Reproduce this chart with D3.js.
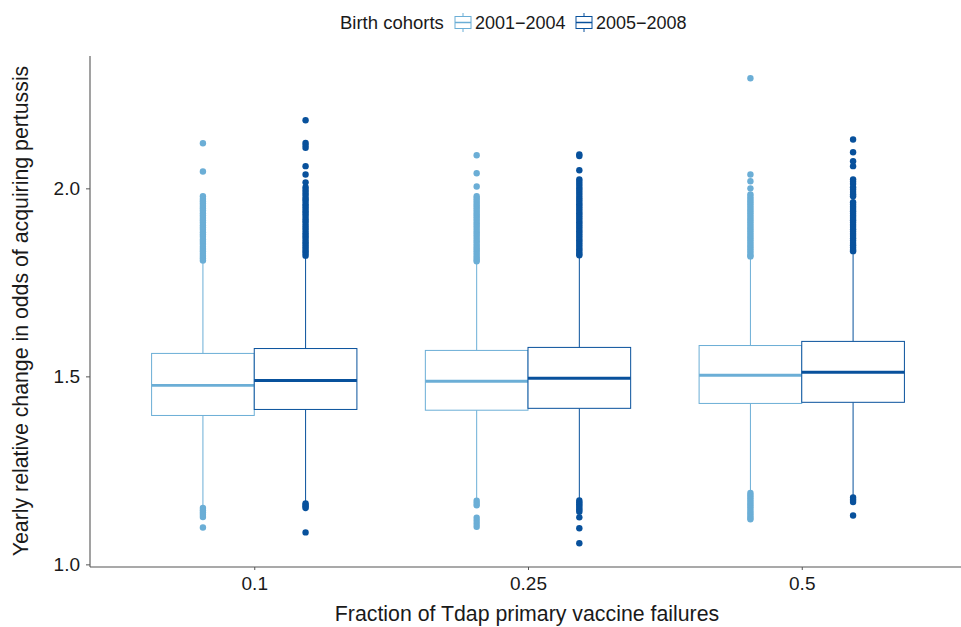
<!DOCTYPE html>
<html>
<head>
<meta charset="utf-8">
<script src="https://cdn.jsdelivr.net/npm/d3@7"></script>
<style>
  html, body { margin: 0; padding: 0; background: #fff; }
  svg { display: block; font-family: "Liberation Sans", Arial, Helvetica, sans-serif; }
</style>
</head>
<body>
<svg id="chart" width="961" height="627"></svg>
<script>
// ---------- data ----------
const groups = ["0.1", "0.25", "0.5"];
const cohorts = ["2001\u22122004", "2005\u22122008"];
const yTicks = [1.0, 1.5, 2.0];

// cohort 2001−2004 box statistics per group
const lowA = [1.154, 1.173, 1.194];
const q1A = [1.396, 1.410, 1.428];
const medA = [1.476, 1.487, 1.503];
const q3A = [1.561, 1.569, 1.582];
const highA = [1.801, 1.803, 1.816];

// cohort 2005−2008 box statistics per group
const lowB = [1.165, 1.173, 1.181];
const q1B = [1.412, 1.415, 1.431];
const medB = [1.489, 1.495, 1.511];
const q3B = [1.574, 1.577, 1.593];
const highB = [1.816, 1.819, 1.830];

// outliers, cohort 2001−2004
const outA_01 = [2.120, 2.045, 1.979, 1.972, 1.966, 1.960, 1.953, 1.947, 1.941, 1.934, 1.928, 1.921, 1.915, 1.909, 1.902, 1.896, 1.890, 1.883, 1.877, 1.871, 1.864, 1.858, 1.852, 1.845, 1.839, 1.833, 1.826, 1.820, 1.814, 1.808,
                 1.150, 1.144, 1.138, 1.132, 1.126, 1.098];
const outA_025 = [2.088, 2.040, 2.005, 1.979, 1.973, 1.967, 1.961, 1.955, 1.949, 1.943, 1.937, 1.931, 1.925, 1.919, 1.913, 1.907, 1.901, 1.895, 1.889, 1.883, 1.877, 1.871, 1.865, 1.859, 1.853, 1.847, 1.841, 1.835, 1.829, 1.823, 1.817, 1.811, 1.806,
                  1.169, 1.163, 1.157, 1.124, 1.116, 1.108, 1.100];
const outA_05 = [2.293, 2.037, 2.019, 2.000, 1.984, 1.978, 1.972, 1.966, 1.960, 1.954, 1.948, 1.942, 1.936, 1.930, 1.924, 1.918, 1.912, 1.906, 1.900, 1.894, 1.888, 1.882, 1.876, 1.870, 1.864, 1.858, 1.852, 1.846, 1.840, 1.834, 1.828, 1.822, 1.819,
                 1.190, 1.184, 1.178, 1.172, 1.166, 1.160, 1.154, 1.148, 1.142, 1.136, 1.130, 1.124, 1.120];

// outliers, cohort 2005−2008
const outB_01 = [2.181, 2.121, 2.115, 2.108, 2.059, 2.037, 2.016, 2.003, 1.996, 1.990, 1.984, 1.977, 1.971, 1.965, 1.958, 1.952, 1.946, 1.939, 1.933, 1.927, 1.920, 1.914, 1.908, 1.901, 1.895, 1.889, 1.882, 1.876, 1.870, 1.863, 1.857, 1.851, 1.845, 1.839, 1.833, 1.827, 1.821,
                 1.162, 1.158, 1.154, 1.150, 1.085];
const outB_025 = [2.090, 2.086, 2.048, 2.024, 2.018, 2.012, 2.006, 2.000, 1.994, 1.988, 1.982, 1.976, 1.970, 1.964, 1.958, 1.952, 1.946, 1.940, 1.934, 1.928, 1.922, 1.916, 1.910, 1.904, 1.898, 1.892, 1.886, 1.880, 1.874, 1.868, 1.862, 1.856, 1.850, 1.844, 1.838, 1.832, 1.826, 1.822,
                  1.170, 1.165, 1.160, 1.155, 1.150, 1.145, 1.140, 1.125, 1.096, 1.056];
const outB_05 = [2.130, 2.096, 2.072, 2.059, 2.024, 2.018, 2.012, 2.003, 1.997, 1.990, 1.984, 1.979, 1.963, 1.957, 1.951, 1.945, 1.939, 1.933, 1.927, 1.921, 1.915, 1.909, 1.903, 1.897, 1.891, 1.885, 1.879, 1.873, 1.867, 1.861, 1.855, 1.849, 1.843, 1.837, 1.833,
                 1.178, 1.172, 1.166, 1.130];

const colors = ["#6baed6", "#08519c"];

// ---------- build records ----------
const stats = [
  { low: lowA, q1: q1A, med: medA, q3: q3A, high: highA, out: [outA_01, outA_025, outA_05] },
  { low: lowB, q1: q1B, med: medB, q3: q3B, high: highB, out: [outB_01, outB_025, outB_05] }
];
const boxes = [];
groups.forEach((g, gi) => {
  cohorts.forEach((c, ci) => {
    const s = stats[ci];
    boxes.push({ group: g, cohort: c, ci,
      low: s.low[gi], q1: s.q1[gi], med: s.med[gi], q3: s.q3[gi], high: s.high[gi], out: s.out[gi] });
  });
});

// ---------- layout ----------
const svg = d3.select("#chart");
const pL = 90, pR = 966, pT = 56, pB = 567;

const x = d3.scalePoint().domain(groups).range([pL, pR]).padding(0.6);
const step = x.step();
const xc = d3.scaleBand().domain(cohorts).range([-0.375 * step, 0.375 * step]);
const y = d3.scaleLinear().domain([0.993, 2.352]).range([pB, pT]);

const axisColor = "#555";
const textColor = "#1a1a1a";

// boxes
const gBox = svg.append("g");
boxes.forEach(b => {
  const col = colors[b.ci];
  const x0 = x(b.group) + xc(b.cohort);
  const w = xc.bandwidth();
  const cx = x0 + w / 2;
  const bg = gBox.append("g");
  bg.append("line").attr("x1", cx).attr("x2", cx).attr("y1", y(b.q3)).attr("y2", y(b.high))
    .attr("stroke", col).attr("stroke-width", 1);
  bg.append("line").attr("x1", cx).attr("x2", cx).attr("y1", y(b.q1)).attr("y2", y(b.low))
    .attr("stroke", col).attr("stroke-width", 1);
  bg.append("rect").attr("x", x0).attr("y", y(b.q3)).attr("width", w).attr("height", y(b.q1) - y(b.q3))
    .attr("fill", "#fff").attr("stroke", col).attr("stroke-width", 1);
  bg.append("line").attr("x1", x0).attr("x2", x0 + w).attr("y1", y(b.med)).attr("y2", y(b.med))
    .attr("stroke", col).attr("stroke-width", 2.8);
  bg.selectAll("circle").data(b.out).join("circle")
    .attr("cx", cx).attr("cy", d => y(d)).attr("r", 3.2).attr("fill", col);
});

// y axis
const yAxis = svg.append("g").attr("transform", `translate(${pL},0)`)
  .call(d3.axisLeft(y).tickValues(yTicks).tickFormat(d3.format(".1f")).tickSize(4).tickPadding(6));
yAxis.select(".domain").attr("stroke", axisColor).attr("stroke-width", 1.1).attr("d", `M0,${pT}V${pB}`);
yAxis.selectAll(".tick line").attr("stroke", axisColor);
yAxis.selectAll("text").attr("fill", textColor).attr("font-size", 19).attr("font-family", "Liberation Sans, Arial, sans-serif");

// x axis
const xAxis = svg.append("g").attr("transform", `translate(0,${pB})`)
  .call(d3.axisBottom(x).tickSize(3).tickPadding(7));
xAxis.select(".domain").attr("stroke", axisColor).attr("stroke-width", 1.1).attr("d", `M${pL},0H${pR}`);
xAxis.selectAll(".tick line").attr("stroke", axisColor);
xAxis.selectAll("text").attr("fill", textColor).attr("font-size", 19).attr("font-family", "Liberation Sans, Arial, sans-serif");

// axis titles
svg.append("text").attr("x", 527).attr("y", 621).attr("text-anchor", "middle")
  .attr("font-size", 21.3).attr("fill", textColor).text("Fraction of Tdap primary vaccine failures");
svg.append("text").attr("transform", `translate(28,311) rotate(-90)`)
  .attr("text-anchor", "middle").attr("font-size", 21.3).attr("fill", textColor)
  .text("Yearly relative change in odds of acquiring pertussis");

// legend
const leg = svg.append("g");
leg.append("text").attr("x", 340).attr("y", 29).attr("font-size", 18.5).attr("fill", textColor).text("Birth cohorts");
const keyX = [454, 575];
cohorts.forEach((c, i) => {
  const kx = keyX[i], col = colors[i];
  const kg = leg.append("g");
  kg.append("line").attr("x1", kx + 9).attr("x2", kx + 9).attr("y1", 13).attr("y2", 32).attr("stroke", col);
  kg.append("rect").attr("x", kx + 1).attr("y", 16.5).attr("width", 16).attr("height", 12).attr("fill", "#fff").attr("stroke", col);
  kg.append("line").attr("x1", kx + 1).attr("x2", kx + 17).attr("y1", 22.5).attr("y2", 22.5).attr("stroke", col).attr("stroke-width", 1.5);
  kg.append("text").attr("x", kx + 21).attr("y", 29).attr("font-size", 18).attr("fill", textColor).text(c);
});
</script>
</body>
</html>
